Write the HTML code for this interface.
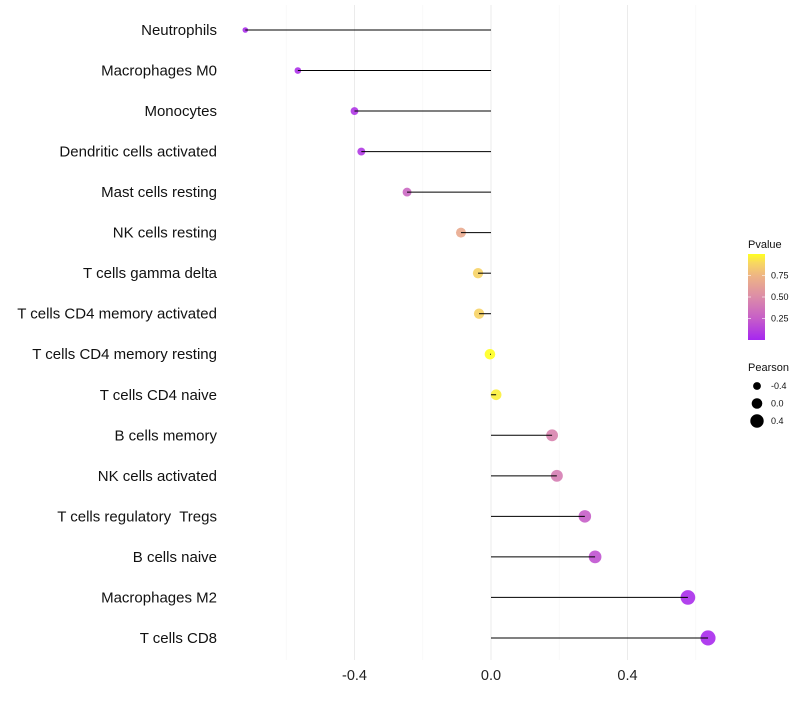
<!DOCTYPE html>
<html><head><meta charset="utf-8"><style>
body{margin:0;background:#fff;width:800px;height:700px;overflow:hidden;font-family:"Liberation Sans",sans-serif}
text{white-space:pre}
</style></head><body>
<svg id="chart" width="800" height="700" xmlns="http://www.w3.org/2000/svg"></svg>
<script>
const categories=["Neutrophils","Macrophages M0","Monocytes","Dendritic cells activated","Mast cells resting","NK cells resting","T cells gamma delta","T cells CD4 memory activated","T cells CD4 memory resting","T cells CD4 naive","B cells memory","NK cells activated","T cells regulatory  Tregs","B cells naive","Macrophages M2","T cells CD8"];
const pearson=[-0.72,-0.566,-0.40,-0.38,-0.246,-0.088,-0.038,-0.035,-0.003,0.015,0.179,0.193,0.275,0.305,0.577,0.636];
const pvalue=[0.03,0.05,0.07,0.08,0.3,0.68,0.88,0.88,1.0,0.96,0.45,0.42,0.25,0.2,0.03,0.02];
const xTicks=[-0.4,0.0,0.4];
const xMinor=[-0.6,-0.2,0.2,0.6];
const pTicks=[0.25,0.50,0.75];
const sizeTicks=[-0.4,0.0,0.4];

const NS="http://www.w3.org/2000/svg";
const svg=document.getElementById('chart');
const xs=v=>491+v*341.25;
const ys=i=>30+i*40.53;
const rs=v=>Math.max(2,5.3+3.5*v);
const stops=[[0,[166,38,240]],[0.25,[198,94,200]],[0.5,[220,140,168]],[0.75,[238,181,132]],[0.9,[248,216,96]],[1,[255,255,32]]];
function col(p){for(let k=1;k<stops.length;k++){if(p<=stops[k][0]){const [p0,a]=stops[k-1],[p1,b]=stops[k];const t=(p-p0)/(p1-p0);return `rgb(${a.map((c,j)=>Math.round(c+(b[j]-c)*t)).join(',')})`;}}return 'rgb(255,255,32)';}
function mk(t,attrs,parent){const e=document.createElementNS(NS,t);for(const k in attrs)e.setAttribute(k,attrs[k]);(parent||svg).appendChild(e);return e;}

xMinor.forEach(v=>{const l=mk('line',{x1:xs(v),x2:xs(v),y1:5,y2:660,stroke:'#f5f5f5','stroke-width':0.6});

});
xTicks.forEach(v=>{const l=mk('line',{x1:xs(v),x2:xs(v),y1:5,y2:660,stroke:'#ebebeb','stroke-width':1});


const t=mk('text',{x:xs(v),y:680,'text-anchor':'middle','font-size':14.5,fill:'#222'});t.textContent=v.toFixed(1);

});
categories.forEach((c,i)=>{const y=ys(i);
const t=mk('text',{x:217,y:y+5,'text-anchor':'end','font-size':15,fill:'#111'});t.textContent=c;


const d=mk('circle',{cx:xs(pearson[i]),cy:y,r:rs(pearson[i]),fill:col(pvalue[i]),'fill-opacity':0.9});


const l=mk('line',{x1:xs(0),x2:xs(pearson[i]),y1:y,y2:y,stroke:'#000','stroke-width':1});

});
const defs=mk('defs',{});const g=mk('linearGradient',{id:'pg',x1:0,y1:1,x2:0,y2:0},defs);
stops.forEach(s=>mk('stop',{offset:s[0],'stop-color':col(s[0])},g));
const pt=mk('text',{x:748,y:248,'font-size':11,fill:'#111'});pt.textContent='Pvalue';


const bar=mk('rect',{x:748,y:254,width:17,height:86,fill:'url(#pg)'});


pTicks.forEach(p=>{const y=340-p*86;
mk('line',{x1:748,x2:751,y1:y,y2:y,stroke:'#fff','stroke-opacity':0.6});mk('line',{x1:762,x2:765,y1:y,y2:y,stroke:'#fff','stroke-opacity':0.6});
const t=mk('text',{x:771,y:y+3,'font-size':9,fill:'#111'});t.textContent=p.toFixed(2);

});
const st=mk('text',{x:748,y:371,'font-size':11,fill:'#111'});st.textContent='Pearson';


sizeTicks.forEach((v,i)=>{const y=386+i*17.5;
const c=mk('circle',{cx:757,cy:y,r:rs(v),fill:'#000'});


const t=mk('text',{x:771,y:y+3,'font-size':9,fill:'#111'});t.textContent=v.toFixed(1);

});
</script>
</body></html>
